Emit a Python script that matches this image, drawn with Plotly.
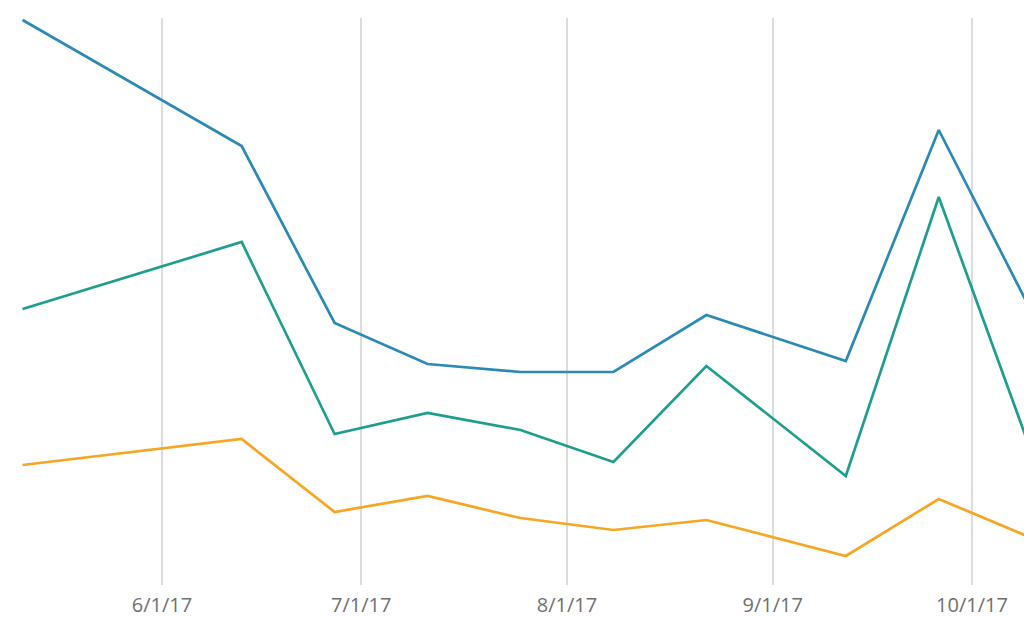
import plotly.graph_objects as go

dates = ["2017-05-11", "2017-06-13", "2017-06-27", "2017-07-11", "2017-07-25",
         "2017-08-08", "2017-08-22", "2017-09-12", "2017-09-26", "2017-10-10"]
series_blue = [565, 439, 262, 221, 213, 213, 270, 224, 455, 273]
series_teal = [276, 343, 151, 172, 155, 123, 219, 109, 388, 132]
series_orange = [120, 146, 73, 89, 67, 55, 65, 29, 86, 47]

fig = go.Figure()
for vals, color in [(series_orange, "#f5a623"), (series_teal, "#1e9e8c"), (series_blue, "#2b8ab5")]:
    fig.add_trace(go.Scatter(x=dates, y=vals, mode="lines",
                             line=dict(color=color, width=2.7), hoverinfo="skip"))

fig.update_layout(
    width=1024, height=617,
    margin=dict(l=0, r=0, t=18, b=32, autoexpand=False),
    paper_bgcolor="white", plot_bgcolor="white",
    showlegend=False,
    font=dict(family="Open Sans", size=20, color="#707070"),
    xaxis=dict(
        type="date",
        range=["2017-05-07 14:24", "2017-10-08 20:10"],
        tick0="2017-06-01", dtick="M1", tickformat="%-m/%-d/%y",
        showgrid=True, gridcolor="#dcdcdc", gridwidth=1.5,
        zeroline=False, showline=False, automargin=False,
        ticks="outside", ticklen=2, tickcolor="rgba(0,0,0,0)",
    ),
    yaxis=dict(range=[0, 567], showgrid=False, zeroline=False,
               showticklabels=False, showline=False),
)
fig.write_html("out.html", config={"displayModeBar": False},
               post_script="document.body.style.margin='0px';document.body.style.overflow='hidden';")
